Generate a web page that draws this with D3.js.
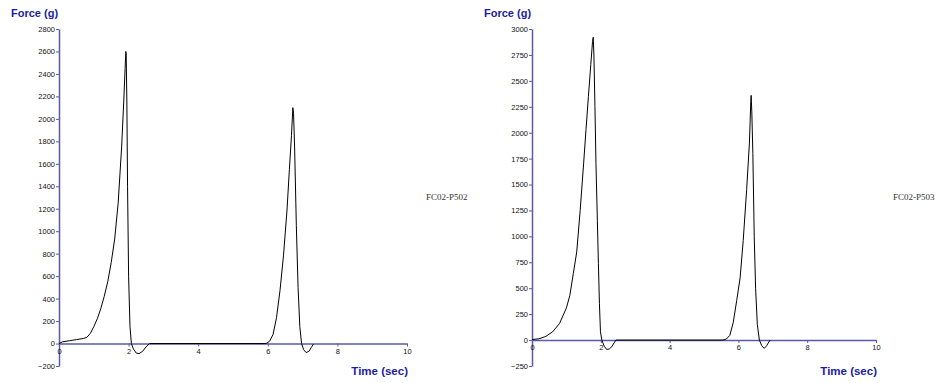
<!DOCTYPE html>
<html>
<head>
<meta charset="utf-8">
<script src="https://cdn.jsdelivr.net/npm/d3@7"></script>
<style>
  body { margin: 0; background: #fff; }
  svg { display: block; }
</style>
</head>
<body>
<div id="chart"></div>
<script>
// values
const leftTime  = [0, 0.1, 0.3, 0.5, 0.7, 0.8, 0.9, 1.0, 1.1, 1.2, 1.3, 1.4, 1.5, 1.6, 1.7, 1.8, 1.86, 1.9, 1.92, 1.93, 1.95, 1.97, 2.0, 2.04, 2.08, 2.14, 2.22, 2.3, 2.4, 2.5, 2.6,
                   5.95, 6.05, 6.15, 6.25, 6.35, 6.45, 6.55, 6.62, 6.68, 6.72, 6.74, 6.77, 6.82, 6.87, 6.92, 6.97, 7.03, 7.1, 7.18, 7.25, 7.31];
const leftForce = [0, 15, 25, 35, 45, 55, 90, 150, 220, 310, 420, 550, 720, 930, 1250, 1750, 2150, 2450, 2600, 2580, 2150, 1400, 600, 150, 0, -50, -85, -90, -70, -30, 0,
                   0, 20, 80, 230, 470, 780, 1180, 1550, 1850, 2100, 2050, 1750, 1050, 500, 150, 0, -55, -80, -70, -35, -5];

const rightTime  = [0, 0.2, 0.4, 0.6, 0.8, 1.0, 1.1, 1.2, 1.3, 1.4, 1.5, 1.57, 1.64, 1.71, 1.76, 1.78, 1.8, 1.83, 1.86, 1.9, 1.93, 1.96, 1.99, 2.03, 2.1, 2.17, 2.25, 2.32, 2.4, 2.44,
                    5.55, 5.65, 5.75, 5.85, 5.95, 6.05, 6.14, 6.24, 6.32, 6.36, 6.37, 6.39, 6.42, 6.46, 6.5, 6.55, 6.61, 6.68, 6.75, 6.82, 6.92];
const rightForce = [5, 12, 35, 80, 160, 310, 430, 640, 850, 1250, 1700, 2030, 2350, 2660, 2880, 2920, 2750, 2250, 1700, 1150, 740, 350, 80, 0, -60, -90, -85, -64, -20, 0,
                    0, 10, 45, 170, 380, 600, 960, 1450, 1900, 2300, 2360, 2200, 1800, 1000, 500, 150, 0, -55, -80, -55, 0];

const xTicks      = [0, 2, 4, 6, 8, 10];
const leftYTicks  = [-200, 0, 200, 400, 600, 800, 1000, 1200, 1400, 1600, 1800, 2000, 2200, 2400, 2600, 2800];
const rightYTicks = [-250, 0, 250, 500, 750, 1000, 1250, 1500, 1750, 2000, 2250, 2500, 2750, 3000];

const yTitle = 'Force (g)';
const xTitle = 'Time (sec)';
const sampleNames = ['FC02-P502', 'FC02-P503'];

const width = 945, height = 383;
const axisColor = '#5a5aa6';
const titleColor = '#1c1ca0';

const svg = d3.select('#chart').append('svg')
  .attr('xmlns', 'http://www.w3.org/2000/svg')
  .attr('width', width)
  .attr('height', height);

const panels = [
  { time: leftTime, force: leftForce, yTicks: leftYTicks, name: sampleNames[0],
    x0: 59, x1: 407, nameX: 426 },
  { time: rightTime, force: rightForce, yTicks: rightYTicks, name: sampleNames[1],
    x0: 532, x1: 876, nameX: 893 }
];

panels.forEach(function(p) {
  let x = d3.scaleLinear().domain([0, 10]).range([p.x0, p.x1]);
  let y = d3.scaleLinear().domain(d3.extent(p.yTicks)).range([366, 29]);

  let g = svg.append('g');

  // y axis
  let yAxis = g.append('g')
    .attr('transform', 'translate(' + p.x0 + ',0)')
    .call(d3.axisLeft(y).tickValues(p.yTicks).tickFormat(d3.format('d'))
      .tickSize(3).tickSizeOuter(0).tickPadding(1));

  // x axis sits on force = 0
  let xAxis = g.append('g')
    .attr('transform', 'translate(0,' + y(0) + ')')
    .call(d3.axisBottom(x).tickValues(xTicks).tickFormat(d3.format('d'))
      .tickSize(3).tickSizeOuter(0).tickPadding(2));

  [yAxis, xAxis].forEach(function(a) {
    a.select('.domain').attr('stroke', axisColor).attr('stroke-width', 1.5);
    a.selectAll('.tick line').attr('stroke', axisColor);
    a.selectAll('.tick text')
      .attr('fill', '#111')
      .style('font-family', 'Arial, "Liberation Sans", sans-serif')
      .style('font-size', '7.5px');
  });

  // trace
  let pts = p.time.map(function(t, i) { return [t, p.force[i]]; });
  g.append('path')
    .datum(pts)
    .attr('fill', 'none')
    .attr('stroke', '#000')
    .attr('stroke-width', 1)
    .attr('d', d3.line().x(function(d) { return x(d[0]); }).y(function(d) { return y(d[1]); }));

  // titles
  g.append('text')
    .attr('x', p.x0 - 48).attr('y', 17)
    .attr('fill', titleColor)
    .style('font-family', 'Arial, "Liberation Sans", sans-serif')
    .style('font-size', '11px').style('font-weight', 'bold')
    .text(yTitle);

  g.append('text')
    .attr('x', p.x1 + 1).attr('y', 375)
    .attr('text-anchor', 'end')
    .attr('fill', titleColor)
    .style('font-family', 'Arial, "Liberation Sans", sans-serif')
    .style('font-size', '11.5px').style('font-weight', 'bold')
    .text(xTitle);

  g.append('text')
    .attr('x', p.nameX).attr('y', 200)
    .attr('fill', '#333')
    .style('font-family', '"Liberation Serif", "DejaVu Serif", serif')
    .style('font-size', '9px')
    .text(p.name);
});
</script>
</body>
</html>
